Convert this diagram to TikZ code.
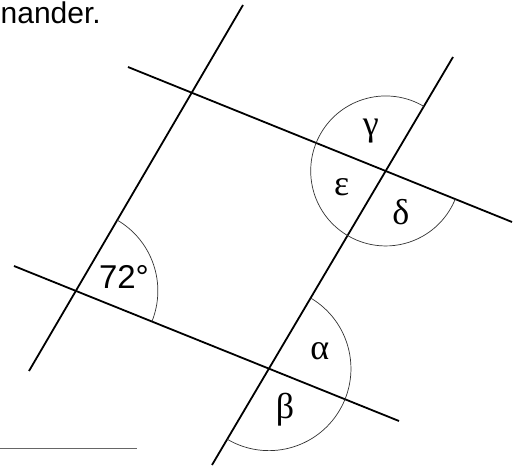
\documentclass[tikz,border=0pt]{standalone}
\usepackage{fontspec}
\setmainfont{Liberation Sans}
\newfontfamily\grk{Liberation Serif}
\begin{document}
\begin{tikzpicture}[x=1pt,y=1pt,
  mainline/.style={line width=1.8pt,black},
  anglearc/.style={line width=0.7pt,black!80},
  lbl/.style={inner sep=0pt,font=\fontsize{33}{36}\selectfont},
  glbl/.style={inner sep=0pt,font=\grk\fontsize{36}{40}\selectfont}]
\useasboundingbox[fill=white] (0,0) rectangle (520,469);
% line end points
\coordinate (A1) at (243,464); \coordinate (A2) at (29,98);
\coordinate (B1) at (128,402); \coordinate (B2) at (512,247);
\coordinate (C1) at (14,203);  \coordinate (C2) at (399,48);
\coordinate (D1) at (453,412); \coordinate (D2) at (212,4);
% intersections
\coordinate (P13) at (intersection of A1--A2 and C1--C2);
\coordinate (P24) at (intersection of B1--B2 and D1--D2);
\coordinate (P34) at (intersection of C1--C2 and D1--D2);
% lines
\draw[mainline] (A1) -- (A2);
\draw[mainline] (B1) -- (B2);
\draw[mainline] (C1) -- (C2);
\draw[mainline] (D1) -- (D2);
% arcs
\draw[anglearc] (P13) ++(59.7:82) arc[start angle=59.7, end angle=-21.9, radius=82];
\draw[anglearc] (P24) ++(59.4:75) arc[start angle=59.4, end angle=338.0, radius=75];
\draw[anglearc] (P34) ++(59.4:82) arc[start angle=59.4, end angle=-120.6, radius=82];
% separator line
\coordinate (S1) at (0,20); \coordinate (S2) at (137,20);
\draw[line width=1pt,black!60] (S1) -- (S2);
% texts
\node[lbl,anchor=base west,font=\fontsize{30}{34}\selectfont] (hdr) at (0.5,445.7) {nander.};
\node[lbl,anchor=base] (a72) at (124,180) {72°};
\node[glbl] (gam) at (370.8,338) {γ};
\node[glbl] (eps) at (341.7,282.3) {ε};
\node[glbl] (del) at (400.8,256.7) {δ};
\node[glbl] (alp) at (319.8,117.7) {α};
\node[glbl] (bet) at (285,59.3) {β};
\end{tikzpicture}
\end{document}
